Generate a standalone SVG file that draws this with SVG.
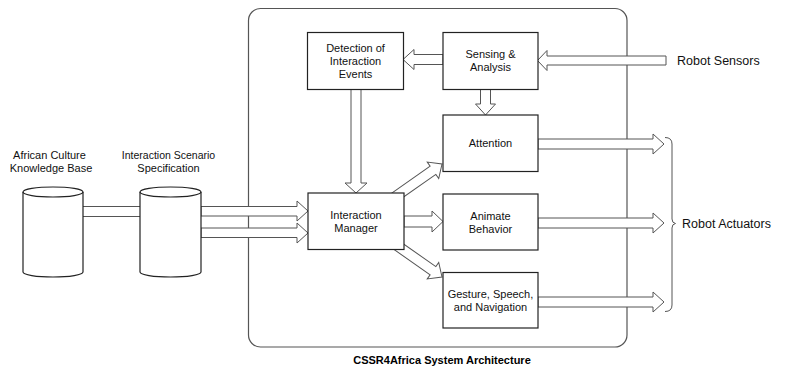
<svg xmlns="http://www.w3.org/2000/svg" width="787" height="367" viewBox="0 0 787 367">
<style>
.box{fill:#fff;stroke:#222;stroke-width:1.2}
.arr{fill:#fff;stroke:#555;stroke-width:1}
.ln{fill:none;stroke:#555;stroke-width:1}
.t{font-family:"Liberation Sans",Arial,sans-serif;font-size:11px;fill:#111;text-anchor:middle}
.lt{font-family:"Liberation Sans",Arial,sans-serif;font-size:12.5px;fill:#111}
.ttl{font-family:"Liberation Sans",Arial,sans-serif;font-size:11px;font-weight:bold;fill:#000;text-anchor:middle}
</style>
<rect width="787" height="367" fill="#fff"/>
<g id="container">
<rect x="248.5" y="8.5" width="378.5" height="338.5" rx="12" fill="none" stroke="#555" stroke-width="1.2"/>
</g>
<g id="connectors">
<line class="ln" x1="83" y1="206.5" x2="140" y2="206.5"/>
<line class="ln" x1="83" y1="216.5" x2="140" y2="216.5"/>
<polygon class="arr" points="201,206.5 297,206.5 297,201 308,211 297,221 297,216 201,216"/>
<polygon class="arr" points="201,228 297,228 297,223 308,233 297,243 297,237.5 201,237.5"/>
<polygon class="arr" points="666,56 547,56 547,50.5 537.5,60.5 547,70.5 547,65 666,65"/>
<polygon class="arr" points="443,54.5 414,54.5 414,49.5 403,59.5 414,69.5 414,64.5 443,64.5"/>
<polygon class="arr" points="480.5,89 480.5,104 475.5,104 485.5,115 495.5,104 490.5,104 490.5,89"/>
<polygon class="arr" points="351,89 351,183 345,183 356,193 367,183 361,183 361,89"/>
<polygon class="arr" points="404,216 432,216 432,211 443,221.5 432,232 432,227 404,227"/>
<g transform="translate(442,164) rotate(-35)">
<polygon class="arr" points="-60,-5 -11,-5 -11,-10 0,0 -11,10 -11,5 -60,5"/>
</g>
<g transform="translate(442,277) rotate(35)">
<polygon class="arr" points="-60,-5 -11,-5 -11,-10 0,0 -11,10 -11,5 -60,5"/>
</g>
<polygon class="arr" points="538,139 653,139 653,134 664,144 653,154 653,149 538,149"/>
<polygon class="arr" points="538,218 653,218 653,213 664,223 653,233 653,228 538,228"/>
<polygon class="arr" points="538,297 653,297 653,292 664,302 653,312 653,307 538,307"/>
<path class="ln" d="M665,137.5 Q672,137.5 672,144 L672,219 Q672,223 675.5,223.5 Q672,224 672,228 L672,305 Q672,311.5 665,311.5"/>
</g>
<g id="kb">
<path class="box" d="M23,192 L23,272 A30,5 0 0 0 83,272 L83,192 A30,5 0 0 0 23,192 Z"/>
<path class="ln" style="stroke:#222;stroke-width:1.2" d="M23,192 A30,5 0 0 0 83,192"/>
<text class="t" x="49.5" y="159">African Culture</text>
<text class="t" x="51" y="172">Knowledge Base</text>
</g>
<g id="scenario">
<path class="box" d="M140,192 L140,272 A30.5,5 0 0 0 201,272 L201,192 A30.5,5 0 0 0 140,192 Z"/>
<path class="ln" style="stroke:#222;stroke-width:1.2" d="M140,192 A30.5,5 0 0 0 201,192"/>
<text class="t" style="font-size:10.5px" x="168.5" y="159">Interaction Scenario</text>
<text class="t" x="168.5" y="172">Specification</text>
</g>
<g id="detection">
<rect class="box" x="307.5" y="32.5" width="96" height="57"/>
<text class="t" x="355.5" y="52">Detection of</text>
<text class="t" x="355.5" y="65">Interaction</text>
<text class="t" x="355.5" y="78">Events</text>
</g>
<g id="sensing">
<rect class="box" x="443" y="32.5" width="95" height="57"/>
<text class="t" x="490.5" y="58">Sensing &amp;</text>
<text class="t" x="490.5" y="71">Analysis</text>
</g>
<g id="attention">
<rect class="box" x="443" y="115" width="95" height="56.5"/>
<text class="t" x="490.5" y="147">Attention</text>
</g>
<g id="manager">
<rect class="box" x="308" y="193" width="96" height="56.5"/>
<text class="t" x="356" y="219">Interaction</text>
<text class="t" x="356" y="231.5">Manager</text>
</g>
<g id="animate">
<rect class="box" x="443" y="194" width="95" height="56"/>
<text class="t" x="490.5" y="220">Animate</text>
<text class="t" x="490.5" y="232.5">Behavior</text>
</g>
<g id="gesture">
<rect class="box" x="443" y="272.5" width="95" height="55.5"/>
<text class="t" x="490.5" y="298">Gesture, Speech,</text>
<text class="t" x="490.5" y="310.5">and Navigation</text>
</g>
<g id="sensors">
<text class="lt" x="677" y="64.5">Robot Sensors</text>
</g>
<g id="actuators">
<text class="lt" x="682" y="227.5">Robot Actuators</text>
</g>
<text class="ttl" x="442" y="364">CSSR4Africa System Architecture</text>
</svg>
